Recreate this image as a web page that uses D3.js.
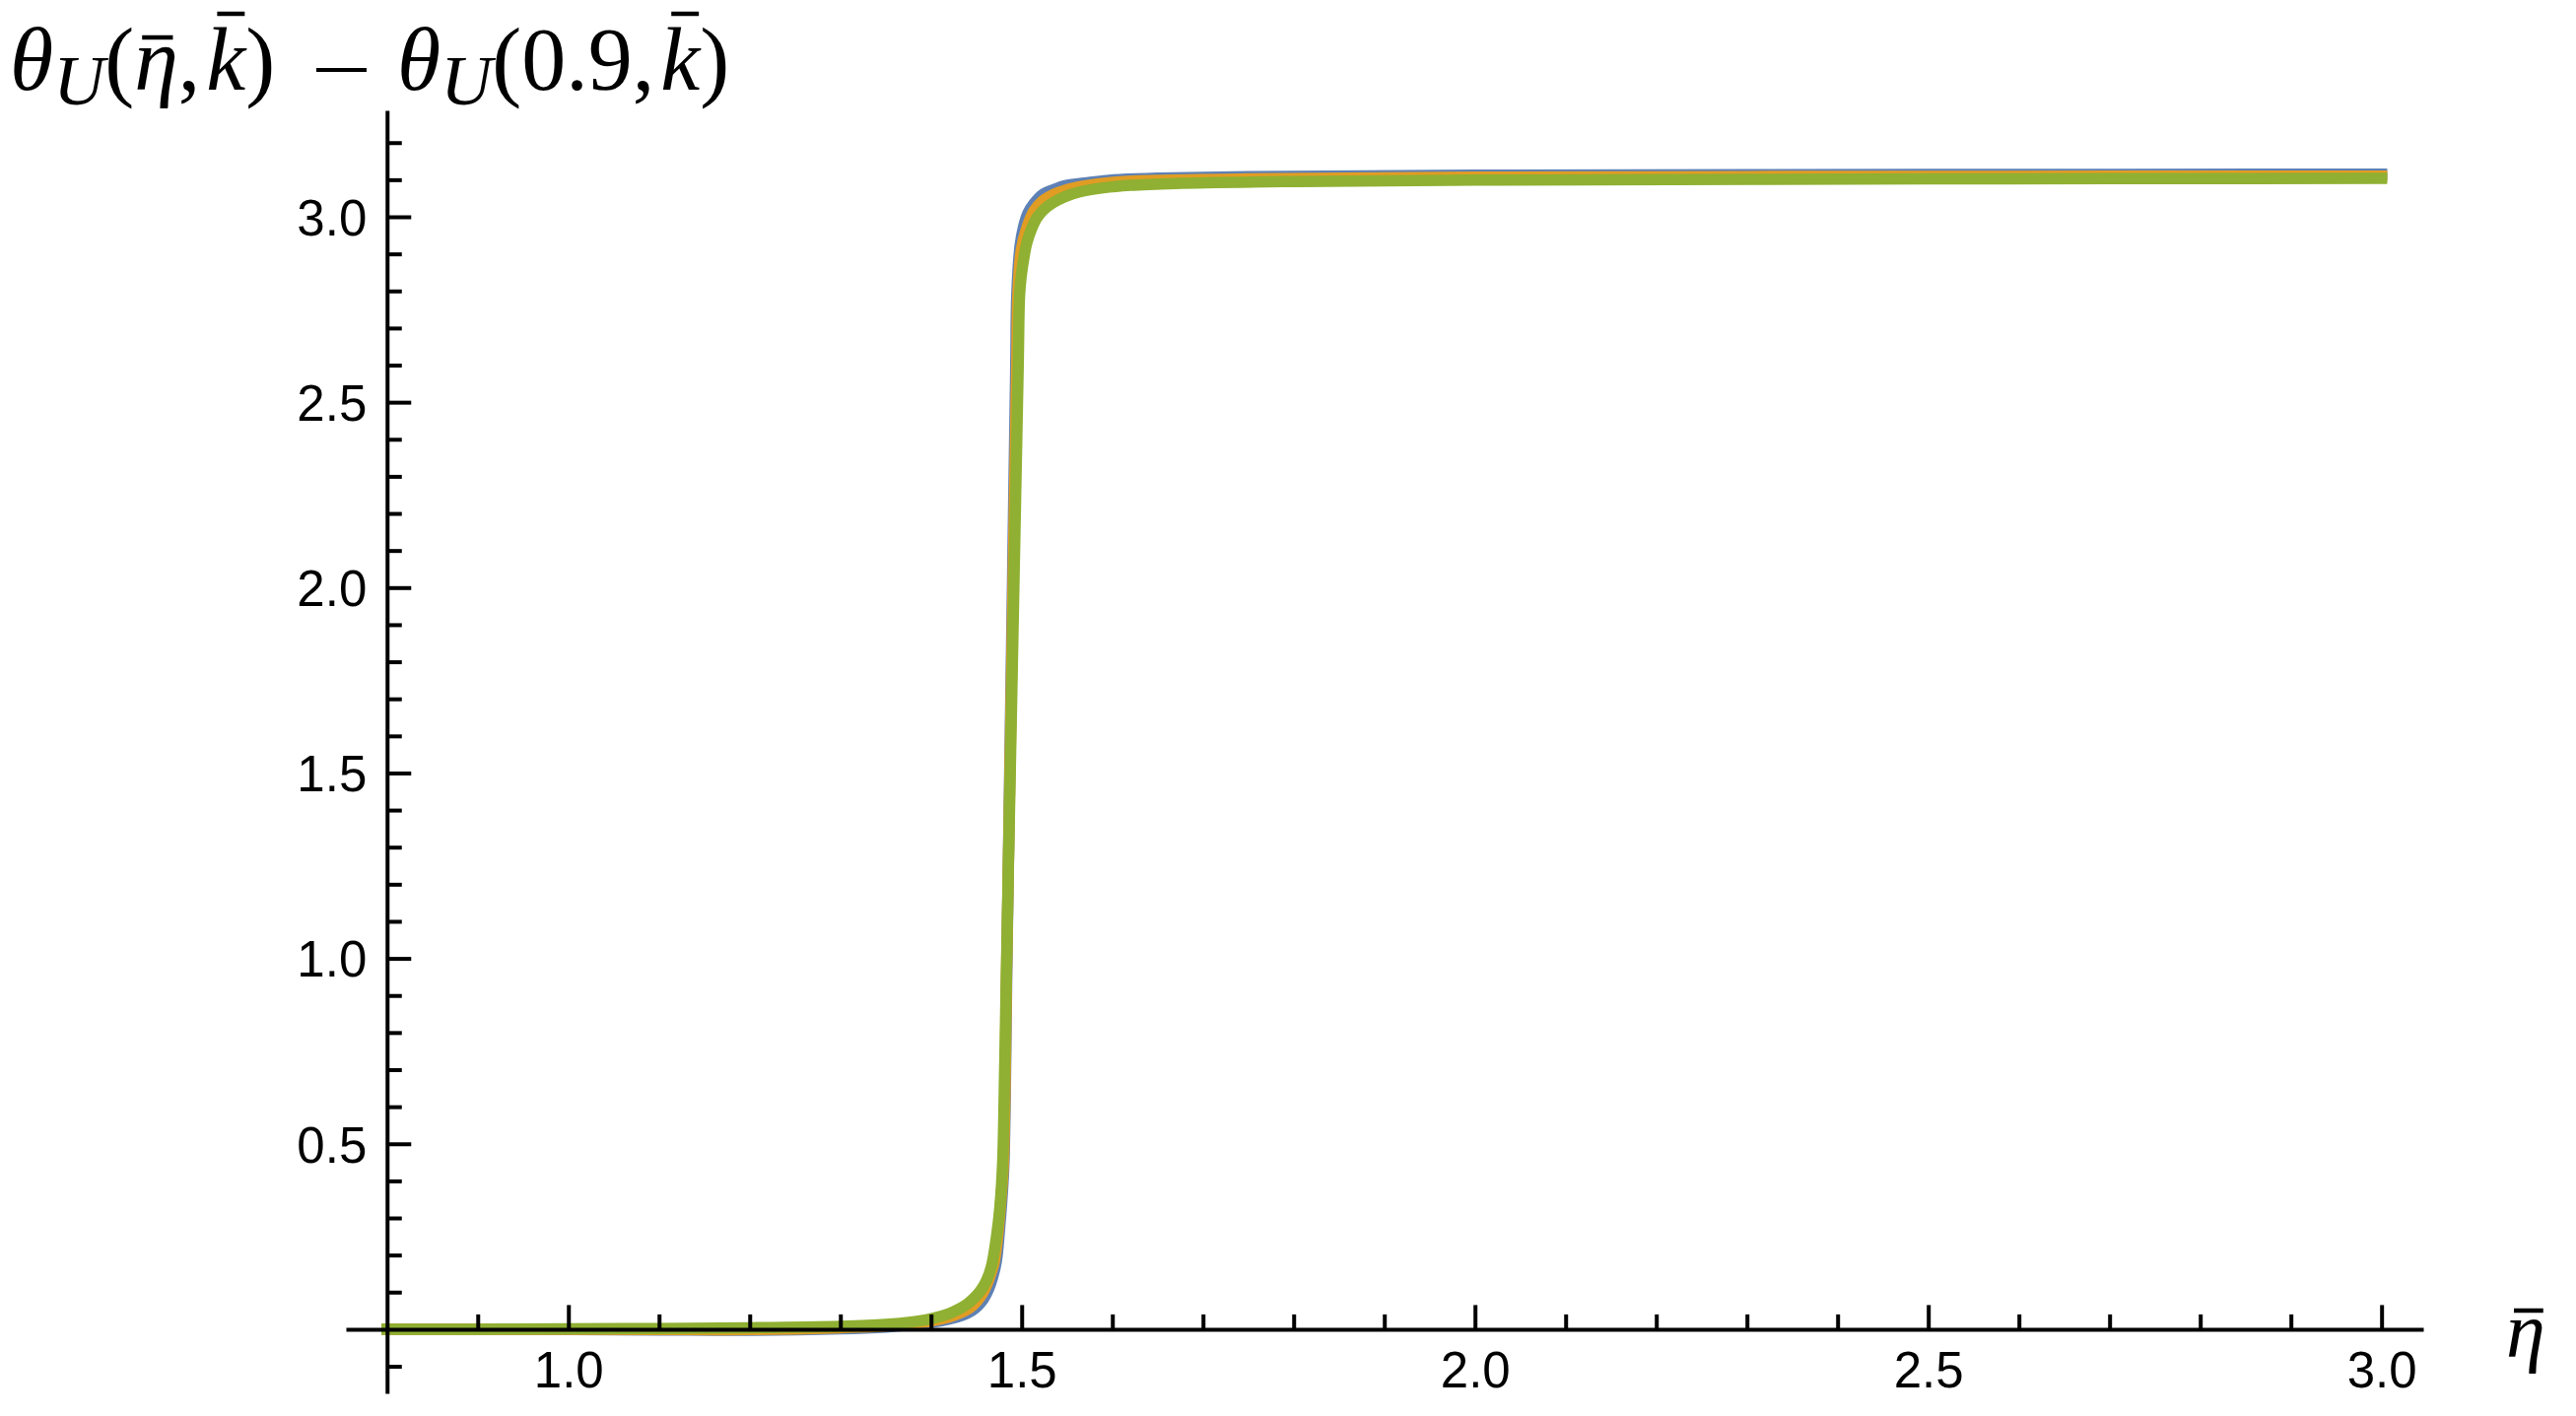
<!DOCTYPE html>
<html><head><meta charset="utf-8">
<script src="https://cdn.jsdelivr.net/npm/d3@7"></script>
<style>body{margin:0;background:#fff}</style>
</head><body>
<svg id="chart" width="2614" height="1437"></svg>
<script>
// ---------- data ----------
const etaBlue = [0.8,0.9,1.0,1.1,1.2,1.3,1.35,1.38,1.40,1.42,1.435,1.445,1.452,1.458,1.4635,1.468,1.4721,1.4757,1.4785,1.4805,1.4838,1.4874,1.491,1.4935,1.4946,1.4982,1.5022,1.507,1.5134,1.5232,1.5362,1.5482,1.5693,1.6014,1.65,1.75,2.0,2.5,3.0];
const valBlue = [0.000,0.000,-0.001,-0.002,-0.003,0.001,0.006,0.012,0.018,0.027,0.038,0.050,0.064,0.082,0.108,0.140,0.183,0.272,0.360,0.448,1.000,1.600,2.200,2.600,2.788,2.921,2.974,3.010,3.035,3.060,3.074,3.084,3.091,3.100,3.104,3.108,3.112,3.114,3.1152];

const etaOrange = [0.8,0.9,1.0,1.1,1.2,1.3,1.35,1.38,1.40,1.42,1.433,1.443,1.4505,1.4565,1.4615,1.466,1.4699,1.4744,1.4775,1.4799,1.4836,1.4877,1.4918,1.4946,1.4958,1.4995,1.505,1.5134,1.5232,1.5362,1.5482,1.5693,1.6014,1.65,1.75,2.0,2.5,3.0];
const valOrange = [0.000,0.000,0.000,-0.001,-0.001,0.004,0.009,0.016,0.022,0.033,0.045,0.058,0.075,0.095,0.120,0.150,0.183,0.272,0.360,0.448,1.000,1.600,2.200,2.600,2.788,2.910,2.965,3.015,3.043,3.061,3.072,3.083,3.093,3.098,3.102,3.107,3.109,3.1095];

const etaGreen = [0.8,0.9,1.0,1.1,1.2,1.3,1.35,1.38,1.40,1.42,1.43,1.44,1.448,1.455,1.461,1.4667,1.4725,1.476,1.479,1.4812,1.4834,1.4882,1.493,1.4962,1.4977,1.4995,1.5025,1.5055,1.511,1.517,1.5243,1.5347,1.5476,1.5639,1.59,1.62,1.67,1.8,2.0,2.5,3.0];
const valGreen = [0.000,0.000,0.001,0.002,0.004,0.008,0.013,0.020,0.028,0.042,0.053,0.068,0.085,0.105,0.130,0.170,0.255,0.330,0.448,0.700,1.000,1.600,2.200,2.600,2.788,2.840,2.890,2.928,2.968,2.998,3.019,3.038,3.054,3.067,3.078,3.085,3.090,3.095,3.099,3.102,3.1034];

const xMajorTicks = [1.0,1.5,2.0,2.5,3.0];
const xMinorTicks = [0.9,1.1,1.2,1.3,1.4,1.6,1.7,1.8,1.9,2.1,2.2,2.3,2.4,2.6,2.7,2.8,2.9];
const yMajorTicks = [0.5,1.0,1.5,2.0,2.5,3.0];
const yMinorTicks = [-0.1,0.1,0.2,0.3,0.4,0.6,0.7,0.8,0.9,1.1,1.2,1.3,1.4,1.6,1.7,1.8,1.9,2.1,2.2,2.3,2.4,2.6,2.7,2.8,2.9,3.1,3.2];

const seriesColors = ["#5E81B5","#E19C24","#8FB032"];
const titleLeft = [
  {t:"θ",it:true},{t:"U",it:true,sub:true},{t:"(",it:false},{t:"η",it:true,bar:"low"},{t:",",it:false,gap:6},
  {t:"k",it:true,bar:"high"},{t:")",it:false}
];
const titleRight = [
  {t:"θ",it:true},{t:"U",it:true,sub:true},{t:"(",it:false},{t:"0.9",it:false},{t:",",it:false,gap:6},
  {t:"k",it:true,bar:"high"},{t:")",it:false}
];

// ---------- chart ----------
const svg = d3.select("#chart");
const x = d3.scaleLinear().domain([0.7546, 3.046]).range([351, 2459]);
const y = d3.scaleLinear().domain([-0.173, 3.287]).range([1414, 112]);

const line = d3.line().x(d=>x(d[0])).y(d=>y(d[1])).curve(d3.curveCatmullRom.alpha(0.5));
const series = [
  d3.zip(etaBlue, valBlue),
  d3.zip(etaOrange, valOrange),
  d3.zip(etaGreen, valGreen)
];
svg.append("g").selectAll("path").data(series).join("path")
  .attr("d", line)
  .attr("fill","none")
  .attr("stroke",(d,i)=>seriesColors[i])
  .attr("stroke-width",11.5)
  .attr("stroke-linecap","square")
  .attr("stroke-linejoin","round");

const tickFont = "'Liberation Sans', Arial, sans-serif";

// x axis
const gx = svg.append("g").attr("transform",`translate(0,${y(0)})`);
gx.call(d3.axisBottom(x).tickValues(xMinorTicks).tickSize(-15).tickSizeOuter(0).tickFormat(""));
gx.call(g=>g.select(".domain").remove());
const gx2 = svg.append("g").attr("transform",`translate(0,${y(0)})`);
gx2.call(d3.axisBottom(x).tickValues(xMajorTicks).tickSize(-24.5).tickSizeOuter(0).tickPadding(23).tickFormat(d3.format(".1f")));
[gx,gx2].forEach(g=>{
  g.selectAll("line").attr("stroke","#000").attr("stroke-width",4);
  g.selectAll("text").attr("font-family",tickFont).attr("font-size",51).attr("fill","#000");
});
gx2.select(".domain").attr("stroke","#000").attr("stroke-width",4);

// y axis
const gy = svg.append("g").attr("transform",`translate(${x(0.8)},0)`);
gy.call(d3.axisLeft(y).tickValues(yMinorTicks).tickSize(-15).tickSizeOuter(0).tickFormat(""));
gy.call(g=>g.select(".domain").remove());
const gy2 = svg.append("g").attr("transform",`translate(${x(0.8)},0)`);
gy2.call(d3.axisLeft(y).tickValues(yMajorTicks).tickSize(-24.5).tickSizeOuter(0).tickPadding(20.5).tickFormat(d3.format(".1f")));
[gy,gy2].forEach(g=>{
  g.selectAll("line").attr("stroke","#000").attr("stroke-width",4);
  g.selectAll("text").attr("font-family",tickFont).attr("font-size",51).attr("fill","#000").attr("dy","0.36em");
});
gy2.select(".domain").attr("stroke","#000").attr("stroke-width",4);

// title (y-axis label)
const mathFont = "'Liberation Serif', 'Times New Roman', serif";
const fs = 90, base = 91;
const tg = svg.append("g");
function drawSegs(segs, startX) {
  let cx = startX;
  segs.forEach(s=>{
    const size = s.sub ? fs*0.8 : fs;
    const t = tg.append("text")
      .attr("x",cx).attr("y", s.sub ? base+15 : base)
      .attr("font-family",mathFont).attr("font-size",size)
      .attr("font-style", s.it ? "italic" : "normal")
      .attr("fill","#000").text(s.t);
    const w = t.node().getComputedTextLength();
    if (s.bar) {
      const by = s.bar === "low" ? base-53 : base-77;
      const off = s.bar === "low" ? 8 : 11;
      tg.append("line").attr("x1",cx+off).attr("x2",cx+off+w*0.7)
        .attr("y1",by).attr("y2",by).attr("stroke","#000").attr("stroke-width",4.5);
    }
    cx += w + (s.gap||0);
  });
}
drawSegs(titleLeft, 10);
tg.append("line").attr("x1",321).attr("x2",372).attr("y1",base-20).attr("y2",base-20)
  .attr("stroke","#000").attr("stroke-width",4);
drawSegs(titleRight, 403);

// x-axis label
const xl = svg.append("text").attr("x",2543).attr("y",1377)
  .attr("font-family",mathFont).attr("font-size",80).attr("font-style","italic").text("η");
const xlw = xl.node().getComputedTextLength();
svg.append("line").attr("x1",2543+8).attr("x2",2543+8+xlw*0.75).attr("y1",1330).attr("y2",1330)
  .attr("stroke","#000").attr("stroke-width",4.5);
</script>
</body></html>
